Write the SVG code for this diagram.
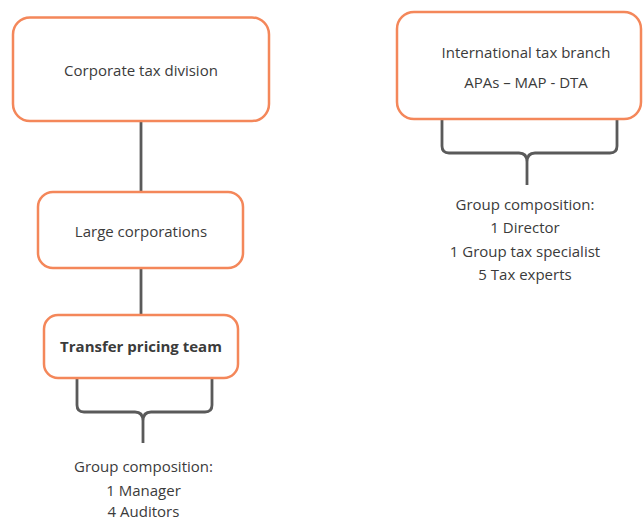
<svg xmlns="http://www.w3.org/2000/svg" width="643" height="522" viewBox="0 0 643 522">
<style>
.box{fill:#fff;stroke:#f4875a;stroke-width:2.5}
.ln{fill:none;stroke:#5a5a5a;stroke-width:2.8;stroke-linecap:butt}
text{font-family:"Open Sans","Noto Sans",sans-serif;font-size:15px;fill:#3b3b3b;text-anchor:middle}
.b{font-weight:bold}
</style>
<rect width="643" height="522" fill="#fff"/>
<g id="connectors">
<path class="ln" d="M141,121 V192"/>
<path class="ln" d="M141,268 V315"/>
<path class="ln" d="M77,378 V405 Q77,412 84,412 H135 Q143,412 143,421 V443 M212,378 V405 Q212,412 205,412 H151 Q143,412 143,421"/>
<path class="ln" d="M442,120 V146 Q442,153 449,153 H519 Q527,153 527,162 V185 M617,120 V146 Q617,153 610,153 H535 Q527,153 527,162"/>
</g>
<g id="corporate">
<rect class="box" x="13" y="17.5" width="256" height="103.5" rx="17"/>
<text x="141" y="76">Corporate tax division</text>
</g>
<g id="large">
<rect class="box" x="38" y="192" width="205" height="76" rx="15"/>
<text x="141" y="237">Large corporations</text>
</g>
<g id="transfer">
<rect class="box" x="44" y="315" width="194" height="63" rx="14"/>
<text class="b" x="141" y="352">Transfer pricing team</text>
</g>
<g id="international">
<rect class="box" x="397" y="12" width="244" height="107" rx="17"/>
<text x="526" y="58">International tax branch</text>
<text x="526" y="88">APAs – MAP - DTA</text>
</g>
<g id="tp-composition">
<text x="143.5" y="472">Group composition:</text>
<text x="143.5" y="495.5">1 Manager</text>
<text x="143.5" y="517">4 Auditors</text>
</g>
<g id="int-composition">
<text x="525" y="210">Group composition:</text>
<text x="525" y="233">1 Director</text>
<text x="525" y="257">1 Group tax specialist</text>
<text x="525" y="280">5  Tax experts</text>
</g>
</svg>
